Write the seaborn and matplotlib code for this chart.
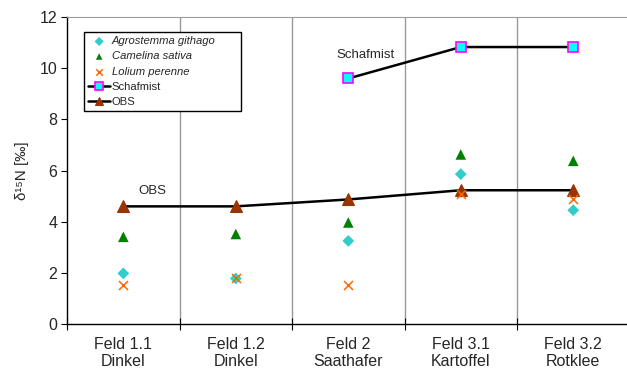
import numpy as np
import pandas as pd
import matplotlib
matplotlib.use('Agg')
import matplotlib.pyplot as plt
import seaborn as sns

sns.set_style('white')
plt.rcParams['font.family'] = ['Liberation Sans', 'DejaVu Sans']

# Data
fields = ['Feld 1.1\nDinkel', 'Feld 1.2\nDinkel', 'Feld 2\nSaathafer',
          'Feld 3.1\nKartoffel', 'Feld 3.2\nRotklee']
agrostemma = [1.98, 1.78, 3.25, 5.86, 4.45]
camelina = [3.41, 3.52, 3.97, 6.63, 6.38]
lolium = [1.51, 1.80, 1.52, 5.10, 4.87]
schafmist_pos = [2, 3, 4]
schafmist = [9.6, 10.83, 10.83]
obs = [4.6, 4.6, 4.87, 5.23, 5.23]

x = np.arange(len(fields))

fig = plt.figure(figsize=(6.27, 3.72), dpi=100)
ax = fig.add_axes([0.107, 0.129, 0.897, 0.825])

# vertical separators between fields
for b in np.arange(0.5, len(fields) - 0.5, 1):
    ax.axvline(b, color='#999999', lw=1, zorder=0)

sns.lineplot(x=schafmist_pos, y=schafmist, ax=ax, color='black', lw=1.8,
             marker='s', markersize=7.5, markerfacecolor='#00FFFF',
             markeredgecolor='#FF00FF', markeredgewidth=1.2,
             label='Schafmist', legend=False, zorder=3)
sns.lineplot(x=x, y=obs, ax=ax, color='black', lw=1.8,
             marker='^', markersize=8, markerfacecolor='#993300',
             markeredgecolor='#993300', label='OBS', legend=False, zorder=3)

sns.scatterplot(x=x, y=agrostemma, ax=ax, marker='D', s=36,
                color='#33CCCC', edgecolor='none', label='Agrostemma githago',
                legend=False, zorder=4)
sns.scatterplot(x=x, y=camelina, ax=ax, marker='^', s=58,
                color='#008000', edgecolor='none', label='Camelina sativa',
                legend=False, zorder=4)
sns.scatterplot(x=x, y=lolium, ax=ax, marker='x', s=42, linewidth=1.1,
                color='#FF6600', label='Lolium perenne', legend=False, zorder=4)

ax.text(0.26, 5.2, 'OBS', fontsize=9.5, ha='center', va='center')
ax.text(2.15, 10.5, 'Schafmist', fontsize=9.5, ha='center', va='center')

ax.set_xlim(-0.5, 4.47)
ax.set_ylim(0, 12)
ax.set_yticks(range(0, 13, 2))
ax.tick_params(axis='y', direction='out', length=4, width=0.8, labelsize=11.5,
               left=True, color='black', pad=3)
ax.set_xticks(x)
ax.set_xticklabels(fields, fontsize=11.5)
ax.set_xticks(np.arange(-0.5, 4.6, 1), minor=True)
ax.tick_params(axis='x', which='major', length=0, pad=9)
ax.tick_params(axis='x', which='minor', direction='inout', length=8,
               width=0.8, bottom=True, color='black')
ax.set_ylabel('δ¹⁵N [‰]', fontsize=11, labelpad=8)

for side in ['left', 'bottom']:
    ax.spines[side].set_color('black')
    ax.spines[side].set_linewidth(1)
ax.spines['top'].set_color('#999999')
ax.spines['right'].set_visible(False)

handles, labels = ax.get_legend_handles_labels()
order = ['Agrostemma githago', 'Camelina sativa', 'Lolium perenne', 'Schafmist', 'OBS']
hmap = dict(zip(labels, handles))
leg = ax.legend([hmap[l] for l in order], order, loc='upper left',
                bbox_to_anchor=(0.03, 0.6, 0.28, 0.35), mode='expand',
                fontsize=8.1, frameon=True,
                fancybox=False, edgecolor='black', framealpha=1,
                handlelength=2.0, handletextpad=0.1, labelspacing=0.45,
                borderpad=0.35, borderaxespad=0)
leg.get_frame().set_linewidth(1)
for t in leg.get_texts()[:3]:
    t.set_style('italic')
for h in leg.legend_handles:
    if hasattr(h, 'set_sizes'):
        h.set_sizes([22])
    else:
        h.set_markersize(5.5)
        h.set_linewidth(1.8)

fig.savefig('out.png', dpi=100)
